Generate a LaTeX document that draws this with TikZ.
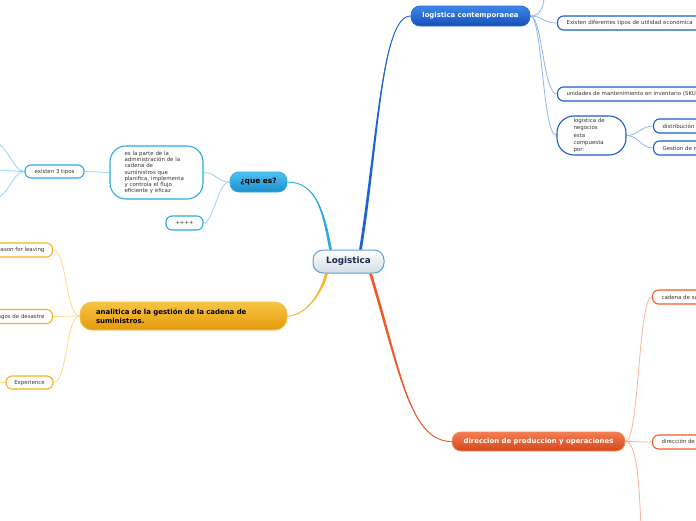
\documentclass[tikz,border=0pt]{standalone}
\usepackage{fontspec}
\setmainfont{DejaVu Sans}
\usetikzlibrary{calc,backgrounds}
\definecolor{logB}{HTML}{5A9FD4}
\definecolor{logG}{HTML}{D3DCE6}
\definecolor{navy}{HTML}{1B2A4A}
\definecolor{qTop}{HTML}{4EC3F2}
\definecolor{qBot}{HTML}{1A8ECB}
\definecolor{qBd}{HTML}{36A9E1}
\definecolor{cTop}{HTML}{3F87EA}
\definecolor{cBot}{HTML}{1450B5}
\definecolor{cBd}{HTML}{2A6DD6}
\definecolor{aTop}{HTML}{F9C443}
\definecolor{aBot}{HTML}{E39A0C}
\definecolor{aBd}{HTML}{F7C24B}
\definecolor{dTop}{HTML}{F37D52}
\definecolor{dBot}{HTML}{D2491B}
\definecolor{dBd}{HTML}{F3865C}
\definecolor{qLine}{HTML}{2FAAE4}
\definecolor{cLine}{HTML}{1C63D3}
\definecolor{aLine}{HTML}{F9B52A}
\definecolor{dLine}{HTML}{F05A28}
\definecolor{qThin}{HTML}{95D5F5}
\definecolor{cThin}{HTML}{8DB5EE}
\definecolor{aThin}{HTML}{FCD98A}
\definecolor{dThin}{HTML}{F9B39A}
\definecolor{qChild}{HTML}{29AAE1}
\definecolor{cChild}{HTML}{1A5FC8}
\definecolor{aChild}{HTML}{F5B21C}
\definecolor{dChild}{HTML}{F05A28}
\definecolor{txt}{HTML}{333333}
\begin{document}
\begin{tikzpicture}[x=1pt,y=-1pt,
  rootnode/.style={rounded corners=10pt, draw=logB, line width=1pt, top color=white, bottom color=logG,
    minimum width=71pt, minimum height=23pt, inner sep=0pt, text=navy,
    font=\fontsize{8.8}{10}\selectfont\bfseries},
  mainnode/.style={rounded corners=9pt, line width=0.8pt, minimum height=20pt, inner sep=0pt,
    font=\fontsize{6.9}{8}\selectfont\bfseries},
  childnode/.style={draw, fill=white, line width=1.1pt, rounded corners=6pt, minimum height=14pt,
    inner ysep=0pt, inner xsep=8pt, text=txt, font=\fontsize{5.45}{6.3}\selectfont},
  thinq/.style={draw=qThin, line width=0.8pt},
  thinc/.style={draw=cThin, line width=0.8pt},
  thina/.style={draw=aThin, line width=0.8pt},
  thind/.style={draw=dThin, line width=0.8pt}]
\useasboundingbox (0,0) rectangle (696,520);
\clip (0,0) rectangle (696,520);

% main nodes
\node[rootnode] (L) at (348.5,261.5) {Logistica};
\node[mainnode, draw=qBd, top color=qTop, bottom color=qBot, minimum width=57pt, text=black,
  font=\fontsize{7.4}{8}\selectfont\bfseries] (queEs) at (258.5,182) {¿que es?};
\node[mainnode, draw=cBd, top color=cTop, bottom color=cBot, minimum width=119pt, text=white] (contemp) at (470.5,16) {logistica contemporanea};
\node[mainnode, draw=aBd, top color=aTop, bottom color=aBot, minimum height=28pt, rounded corners=12pt,
  align=left, text width=175pt, inner xsep=16pt, text=black, font=\fontsize{6.95}{8.8}\selectfont\bfseries] (analitica) at (183.5,316)
  {analitica de la gestión de la cadena de\\suministros.};
\node[mainnode, draw=dBd, top color=dTop, bottom color=dBot, minimum width=173pt, minimum height=19pt, text=white] (direccion) at (538.5,441.5) {direccion de produccion y operaciones};

% children of que es
\node[childnode, draw=qChild, rounded corners=16pt, minimum width=93pt, minimum height=53pt, align=left,
  text width=64pt, inner xsep=14.5pt, font=\fontsize{5.45}{6.3}\selectfont] (big) at (156.5,172.5)
  {es la parte de la\\administración de la\\cadena de\\suministros que\\planifica, implementa\\y controla el flujo\\eficiente y eficaz};
\node[childnode, draw=qChild, minimum width=37pt] (plus) at (184.5,223) {++++};
\node[childnode, draw=qChild, minimum width=59pt, minimum height=13pt] (existen) at (54.5,171.5) {existen 3 tipos};

% children of analitica
\node[childnode, draw=aChild, anchor=east] (reason) at (53,250) {Reason for leaving};
\node[childnode, draw=aChild, anchor=east] (riesgos) at (53,316.5) {Riesgos de desastre};
\node[childnode, draw=aChild, minimum width=47pt, minimum height=13pt] (experience) at (29.5,382.5) {Experience};

% children of logistica contemporanea
\node[childnode, draw=cChild, anchor=west, inner xsep=9pt] (exist) at (557,23) {Existen diferentes tipos de utilidad económica};
\node[childnode, draw=cChild, anchor=west, inner xsep=9pt] (unid) at (557,94) {unidades de mantenimiento en inventario (SKU)};
\node[childnode, draw=cChild, rounded corners=17pt, minimum width=69pt, minimum height=39pt, align=left,
  text width=36pt, inner xsep=16.5pt, font=\fontsize{5.45}{7.2}\selectfont] (neg) at (591.5,135.5)
  {logistica de\\negocios\\esta\\compuesta\\por:};
\node[childnode, draw=cChild, anchor=west, inner xsep=9pt] (distrib) at (653,126) {distribución física};
\node[childnode, draw=cChild, anchor=west, inner xsep=9pt] (gestion) at (653,148) {Gestion de materiales};

% children of direccion
\node[childnode, draw=dChild, anchor=west, inner xsep=9pt] (cadena) at (652,297) {cadena de suministro};
\node[childnode, draw=dChild, anchor=west, inner xsep=9pt] (dirdir) at (652,442) {dirección de operaciones};

% free ends
\coordinate (e1) at (-8,142);
\coordinate (e2) at (-8,170);
\coordinate (e3) at (-8,199);
\coordinate (e4) at (-8,382.5);
\coordinate (e5) at (545,-6);
\coordinate (e6) at (641,526);

\begin{scope}[on background layer]
% main tapered connectors
\fill[qLine] ($(L.north)+(-19.4,0)$) .. controls ($(L.north)+(-25.9,-35)$) and ($(queEs.east)+(30,0)$) .. (queEs.east)
  .. controls ($(queEs.east)+(30,0)$) and ($(L.north)+(-23.1,-35)$) .. ($(L.north)+(-16.6,0)$) -- cycle;
\draw[qLine, line width=0.9pt] ($(L.north)+(-18,0)$) .. controls ($(L.north)+(-24.5,-35)$) and ($(queEs.east)+(30,0)$) .. (queEs.east);

\fill[cLine] ($(L.north)+(10.6,0)$) .. controls ($(L.north)+(28.1,-110)$) and ($(contemp.west)+(-29,0)$) .. (contemp.west)
  .. controls ($(contemp.west)+(-29,0)$) and ($(L.north)+(30.9,-110)$) .. ($(L.north)+(13.4,0)$) -- cycle;
\draw[cLine, line width=0.9pt] ($(L.north)+(12,0)$) .. controls ($(L.north)+(29.5,-110)$) and ($(contemp.west)+(-29,0)$) .. (contemp.west);

\fill[aLine] ($(L.south)+(-23.4,0)$) .. controls ($(L.south)+(-28.4,20)$) and ($(analitica.east)+(18,0)$) .. (analitica.east)
  .. controls ($(analitica.east)+(18,0)$) and ($(L.south)+(-25.6,20)$) .. ($(L.south)+(-20.6,0)$) -- cycle;
\draw[aLine, line width=0.9pt] ($(L.south)+(-22,0)$) .. controls ($(L.south)+(-27,20)$) and ($(analitica.east)+(18,0)$) .. (analitica.east);

\fill[dLine] ($(L.south)+(20.6,0)$) .. controls ($(L.south)+(50.1,97)$) and ($(direccion.west)+(-42,0)$) .. (direccion.west)
  .. controls ($(direccion.west)+(-42,0)$) and ($(L.south)+(52.9,97)$) .. ($(L.south)+(23.4,0)$) -- cycle;
\draw[dLine, line width=0.9pt] ($(L.south)+(22,0)$) .. controls ($(L.south)+(51.5,97)$) and ($(direccion.west)+(-42,0)$) .. (direccion.west);

% que es branch
\draw[thinq] (queEs.west) .. controls ($(queEs.west)+(-12,0)$) and ($(big.east)+(12,0)$) .. (big.east);
\draw[thinq] (queEs.west) .. controls ($(queEs.west)+(-12,0)$) and ($(plus.east)+(10,0)$) .. (plus.east);
\draw[thinq] (big.west) -- (existen.east);
\draw[thinq] (existen.west) .. controls ($(existen.west)+(-12,0)$) and ($(e1)+(16,0)$) .. (e1);
\draw[thinq] (existen.west) .. controls ($(existen.west)+(-12,0)$) and ($(e2)+(16,0)$) .. (e2);
\draw[thinq] (existen.west) .. controls ($(existen.west)+(-12,0)$) and ($(e3)+(16,0)$) .. (e3);

% analitica branch
\draw[thina] (analitica.west) .. controls ($(analitica.west)+(-14,0)$) and ($(reason.east)+(14,0)$) .. (reason.east);
\draw[thina] (analitica.west) .. controls ($(analitica.west)+(-14,0)$) and ($(riesgos.east)+(14,0)$) .. (riesgos.east);
\draw[thina] (analitica.west) .. controls ($(analitica.west)+(-14,0)$) and ($(experience.east)+(14,0)$) .. (experience.east);
\draw[thina] (experience.west) -- (e4);

% contemporanea branch
\draw[thinc] (contemp.east) .. controls ($(contemp.east)+(10,0)$) and ($(e5)+(-2,14)$) .. (e5);
\draw[thinc] (contemp.east) .. controls ($(contemp.east)+(12,0)$) and ($(exist.west)+(-14,0)$) .. (exist.west);
\draw[thinc] (contemp.east) .. controls ($(contemp.east)+(12,0)$) and ($(unid.west)+(-14,0)$) .. (unid.west);
\draw[thinc] (contemp.east) .. controls ($(contemp.east)+(12,0)$) and ($(neg.west)+(-14,0)$) .. (neg.west);
\draw[thinc] (neg.east) .. controls ($(neg.east)+(12,0)$) and ($(distrib.west)+(-12,0)$) .. (distrib.west);
\draw[thinc] (neg.east) .. controls ($(neg.east)+(12,0)$) and ($(gestion.west)+(-12,0)$) .. (gestion.west);

% direccion branch
\draw[thind] (direccion.east) .. controls ($(direccion.east)+(14,0)$) and ($(cadena.west)+(-14,0)$) .. (cadena.west);
\draw[thind] (direccion.east) .. controls ($(direccion.east)+(12,0)$) and ($(dirdir.west)+(-12,0)$) .. (dirdir.west);
\draw[thind] (direccion.east) .. controls ($(direccion.east)+(12,0)$) and ($(e6)+(-2,-40)$) .. (e6);
\end{scope}
\end{tikzpicture}
\end{document}
